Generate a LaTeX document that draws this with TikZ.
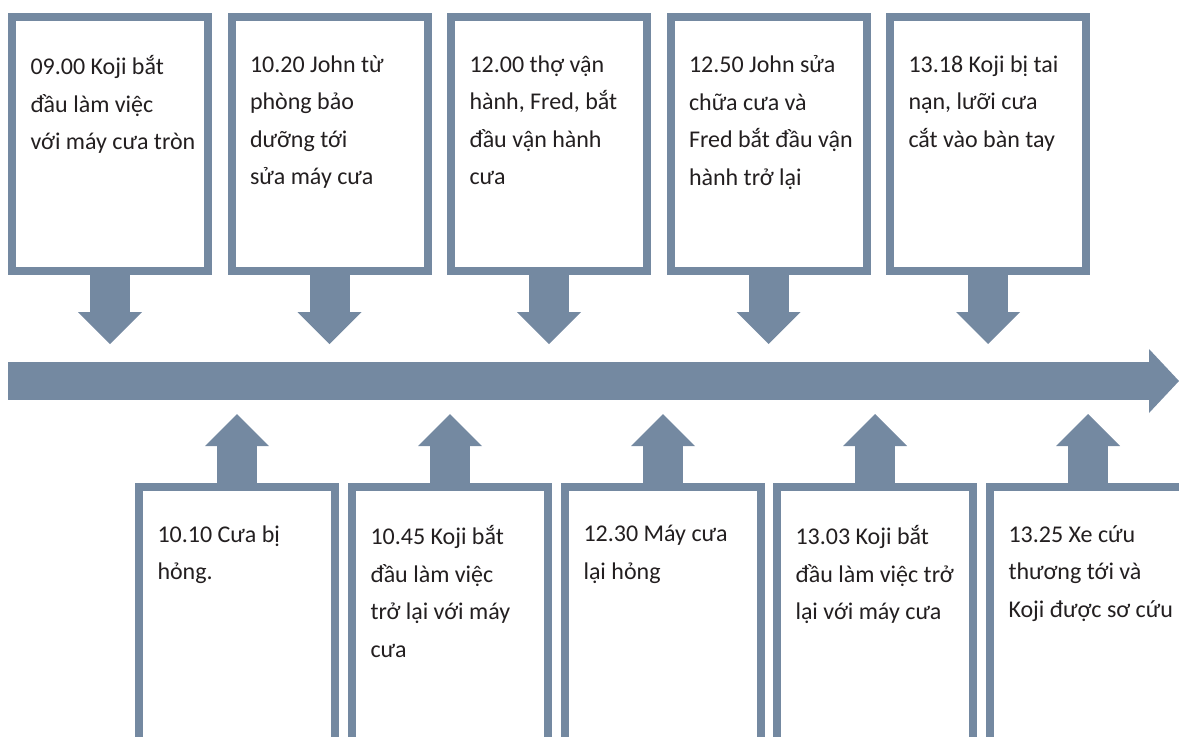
\documentclass[tikz,border=0pt]{standalone}
\usepackage{fontspec}
\setmainfont{Carlito}
\usetikzlibrary{arrows.meta}

\definecolor{tlblue}{RGB}{116,137,161}
\definecolor{txtgray}{RGB}{35,31,32}

\tikzset{every picture/.style={line width=0.75pt}}
\tikzset{
  evbox/.style={draw=tlblue, line width=6pt, fill=white, inner sep=0pt, minimum width=147pt},
  topbox/.style={evbox, minimum height=190.5pt},
  botbox/.style={evbox, minimum height=194.25pt},
  evtext/.style={anchor=north west, inner sep=0pt, align=left, text=txtgray,
    font=\fontsize{18pt}{28.125pt}\selectfont, execute at begin node={\rule{0pt}{18pt}}},
  evarrow/.style={draw=tlblue, line width=30pt, -{Triangle[width=48pt,length=24pt,line width=0pt]}},
  timeline/.style={draw=tlblue, line width=28.5pt, -{Triangle[width=48pt,length=22.5pt,line width=0pt]}}
}

\begin{document}
\begin{tikzpicture}[x=0.75pt,y=0.75pt,yscale=-1,xscale=1]
  \clip (0,0) rectangle (1179,736);

  %Top boxes
  \node [topbox] (t1) at (110,144) {};
  \node [topbox] (t2) at (329.5,144) {};
  \node [topbox] (t3) at (549,144) {};
  \node [topbox] (t4) at (768.5,144) {};
  \node [topbox] (t5) at (988,144) {};

  %Bottom boxes
  \node [botbox] (b1) at (237,616.5) {};
  \node [botbox] (b2) at (450,616.5) {};
  \node [botbox] (b3) at (663,616.5) {};
  \node [botbox] (b4) at (875,616.5) {};
  \node [botbox] (b5) at (1088,616.5) {};

  %Timeline
  \coordinate (tlstart) at (8,381);
  \coordinate (tlend) at (1179,381);
  \draw [timeline] (tlstart) -- (tlend);

  %Arrows down to the timeline
  \draw [evarrow] (t1.south) -- ++(0,69);
  \draw [evarrow] (t2.south) -- ++(0,69);
  \draw [evarrow] (t3.south) -- ++(0,69);
  \draw [evarrow] (t4.south) -- ++(0,69);
  \draw [evarrow] (t5.south) -- ++(0,69);

  %Arrows up to the timeline
  \draw [evarrow] (b1.north) -- ++(0,-69);
  \draw [evarrow] (b2.north) -- ++(0,-69);
  \draw [evarrow] (b3.north) -- ++(0,-69);
  \draw [evarrow] (b4.north) -- ++(0,-69);
  \draw [evarrow] (b5.north) -- ++(0,-69);

  \node [evtext] (t1text) at ([shift={(22,42)}]t1.north west) {09.00 Koji bắt\\đầu làm việc\\với máy cưa tròn};
  \node [evtext] (t2text) at ([shift={(22,42)}]t2.north west) {10.20 John từ\\phòng bảo\\dưỡng tới\\sửa máy cưa};
  \node [evtext] (t3text) at ([shift={(22,42)}]t3.north west) {12.00 thợ vận\\hành, Fred, bắt\\đầu vận hành\\cưa};
  \node [evtext] (t4text) at ([shift={(22,42)}]t4.north west) {12.50 John sửa\\chữa cưa và\\Fred bắt đầu vận\\hành trở lại};
  \node [evtext] (t5text) at ([shift={(22,42)}]t5.north west) {13.18 Koji bị tai\\nạn, lưỡi cưa\\cắt vào bàn tay};

  \node [evtext] (b1text) at ([shift={(22,42)}]b1.north west) {10.10 Cưa bị\\hỏng.};
  \node [evtext] (b2text) at ([shift={(22,42)}]b2.north west) {10.45 Koji bắt\\đầu làm việc\\trở lại với máy\\cưa};
  \node [evtext] (b3text) at ([shift={(22,42)}]b3.north west) {12.30 Máy cưa\\lại hỏng};
  \node [evtext] (b4text) at ([shift={(22,42)}]b4.north west) {13.03 Koji bắt\\đầu làm việc trở\\lại với máy cưa};
  \node [evtext] (b5text) at ([shift={(22,42)}]b5.north west) {13.25 Xe cứu\\thương tới và\\Koji được sơ cứu};

\end{tikzpicture}
\end{document}
